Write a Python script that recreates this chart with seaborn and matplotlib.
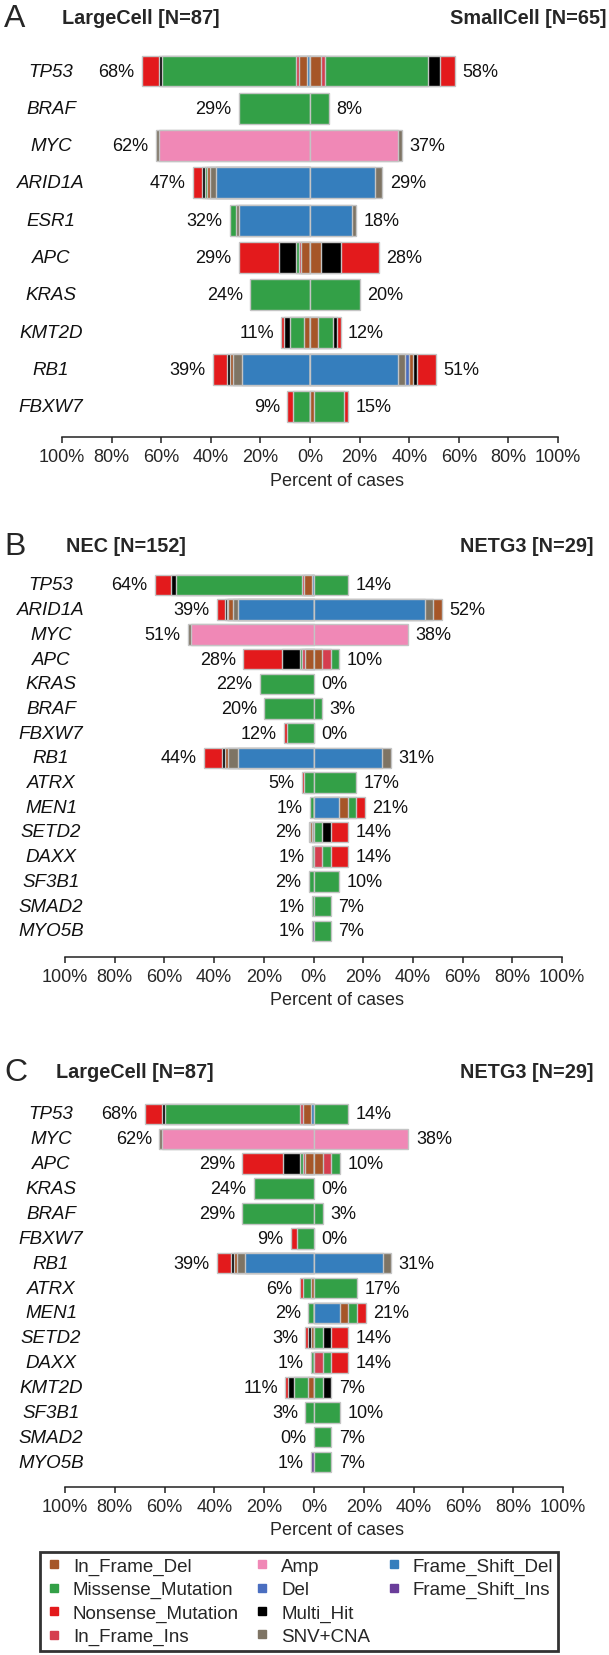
import matplotlib
matplotlib.use("Agg")
import matplotlib.pyplot as plt
from matplotlib.lines import Line2D
from matplotlib import transforms
import pandas as pd
import seaborn as sns

sns.set_theme(style="white")
plt.rcParams["font.family"] = ["Liberation Sans", "DejaVu Sans"]

# variant classes and colours
vc_colors = {
    "In_Frame_Del": "#A65628",
    "Missense_Mutation": "#33A047",
    "Nonsense_Mutation": "#E31A1C",
    "In_Frame_Ins": "#D53E4F",
    "Amp": "#F088B6",
    "Del": "#4A6EC0",
    "Multi_Hit": "#000000",
    "SNV+CNA": "#7E7464",
    "Frame_Shift_Del": "#357EBD",
    "Frame_Shift_Ins": "#6A3D9A",
}

# sample counts per gene, segments listed from the centre outward
n_large, n_small, n_nec, n_netg3 = 87, 65, 152, 29

large_cell = {
    "TP53": [("Frame_Shift_Del", 1), ("In_Frame_Del", 3), ("In_Frame_Ins", 1), ("Missense_Mutation", 47), ("Multi_Hit", 1), ("Nonsense_Mutation", 6)],
    "BRAF": [("Missense_Mutation", 25)],
    "MYC": [("Amp", 53), ("SNV+CNA", 1)],
    "ARID1A": [("Frame_Shift_Del", 33), ("SNV+CNA", 2), ("In_Frame_Del", 1), ("Missense_Mutation", 1), ("Multi_Hit", 1), ("Nonsense_Mutation", 3)],
    "ESR1": [("Frame_Shift_Del", 25), ("SNV+CNA", 1), ("Missense_Mutation", 2)],
    "APC": [("In_Frame_Del", 3), ("In_Frame_Ins", 1), ("Missense_Mutation", 1), ("Multi_Hit", 6), ("Nonsense_Mutation", 14)],
    "KRAS": [("Missense_Mutation", 21)],
    "KMT2D": [("In_Frame_Del", 2), ("Missense_Mutation", 5), ("Multi_Hit", 2), ("Nonsense_Mutation", 1)],
    "RB1": [("Frame_Shift_Del", 24), ("SNV+CNA", 3), ("In_Frame_Del", 1), ("Multi_Hit", 1), ("Nonsense_Mutation", 5)],
    "FBXW7": [("Missense_Mutation", 6), ("Nonsense_Mutation", 2)],
    "ATRX": [("In_Frame_Del", 1), ("Missense_Mutation", 3), ("Nonsense_Mutation", 1)],
    "MEN1": [("Missense_Mutation", 2)],
    "SETD2": [("In_Frame_Del", 1), ("Multi_Hit", 1), ("Nonsense_Mutation", 1)],
    "DAXX": [("Missense_Mutation", 1)],
    "SF3B1": [("Missense_Mutation", 3)],
    "SMAD2": [],
    "MYO5B": [("Frame_Shift_Ins", 1)],
}

small_cell = {
    "TP53": [("In_Frame_Del", 3), ("In_Frame_Ins", 1), ("Missense_Mutation", 27), ("Multi_Hit", 3), ("Nonsense_Mutation", 4)],
    "BRAF": [("Missense_Mutation", 5)],
    "MYC": [("Amp", 23), ("SNV+CNA", 1)],
    "ARID1A": [("Frame_Shift_Del", 17), ("SNV+CNA", 2)],
    "ESR1": [("Frame_Shift_Del", 11), ("SNV+CNA", 1)],
    "APC": [("In_Frame_Del", 3), ("Multi_Hit", 5), ("Nonsense_Mutation", 10)],
    "KRAS": [("Missense_Mutation", 13)],
    "KMT2D": [("In_Frame_Del", 2), ("Missense_Mutation", 4), ("Multi_Hit", 1), ("Nonsense_Mutation", 1)],
    "RB1": [("Frame_Shift_Del", 23), ("SNV+CNA", 2), ("Del", 1), ("In_Frame_Del", 1), ("Multi_Hit", 1), ("Nonsense_Mutation", 5)],
    "FBXW7": [("In_Frame_Del", 1), ("Missense_Mutation", 8), ("Nonsense_Mutation", 1)],
}

nec = {
    "TP53": [("Frame_Shift_Del", 1), ("In_Frame_Del", 5), ("In_Frame_Ins", 1), ("Missense_Mutation", 77), ("Multi_Hit", 3), ("Nonsense_Mutation", 10)],
    "ARID1A": [("Frame_Shift_Del", 46), ("SNV+CNA", 3), ("In_Frame_Del", 3), ("Missense_Mutation", 1), ("Multi_Hit", 1), ("Nonsense_Mutation", 5)],
    "MYC": [("Amp", 75), ("SNV+CNA", 2)],
    "APC": [("In_Frame_Del", 5), ("In_Frame_Ins", 2), ("Missense_Mutation", 1), ("Multi_Hit", 11), ("Nonsense_Mutation", 24)],
    "KRAS": [("Missense_Mutation", 33)],
    "BRAF": [("Missense_Mutation", 30)],
    "FBXW7": [("Missense_Mutation", 16), ("Nonsense_Mutation", 2)],
    "RB1": [("Frame_Shift_Del", 46), ("SNV+CNA", 6), ("In_Frame_Del", 2), ("Multi_Hit", 2), ("Nonsense_Mutation", 11)],
    "ATRX": [("Missense_Mutation", 6), ("Nonsense_Mutation", 1)],
    "MEN1": [("Missense_Mutation", 2)],
    "SETD2": [("SNV+CNA", 1), ("In_Frame_Del", 1), ("Nonsense_Mutation", 1)],
    "DAXX": [("Missense_Mutation", 1)],
    "SF3B1": [("Missense_Mutation", 3)],
    "SMAD2": [("Missense_Mutation", 1)],
    "MYO5B": [("Frame_Shift_Ins", 1)],
}

netg3 = {
    "TP53": [("Missense_Mutation", 4)],
    "ARID1A": [("Frame_Shift_Del", 13), ("SNV+CNA", 1), ("In_Frame_Del", 1)],
    "MYC": [("Amp", 11)],
    "APC": [("In_Frame_Del", 1), ("In_Frame_Ins", 1), ("Missense_Mutation", 1)],
    "KRAS": [],
    "BRAF": [("Missense_Mutation", 1)],
    "FBXW7": [],
    "RB1": [("Frame_Shift_Del", 8), ("SNV+CNA", 1)],
    "ATRX": [("Missense_Mutation", 5)],
    "MEN1": [("Frame_Shift_Del", 3), ("In_Frame_Del", 1), ("Missense_Mutation", 1), ("Nonsense_Mutation", 1)],
    "SETD2": [("Missense_Mutation", 1), ("Multi_Hit", 1), ("Nonsense_Mutation", 2)],
    "DAXX": [("In_Frame_Ins", 1), ("Missense_Mutation", 1), ("Nonsense_Mutation", 2)],
    "KMT2D": [("Missense_Mutation", 1), ("Multi_Hit", 1)],
    "SF3B1": [("Missense_Mutation", 3)],
    "SMAD2": [("Missense_Mutation", 2)],
    "MYO5B": [("Missense_Mutation", 2)],
}

genes_a = ["TP53", "BRAF", "MYC", "ARID1A", "ESR1", "APC", "KRAS", "KMT2D", "RB1", "FBXW7"]
genes_b = ["TP53", "ARID1A", "MYC", "APC", "KRAS", "BRAF", "FBXW7", "RB1", "ATRX", "MEN1",
           "SETD2", "DAXX", "SF3B1", "SMAD2", "MYO5B"]
genes_c = ["TP53", "MYC", "APC", "KRAS", "BRAF", "FBXW7", "RB1", "ATRX", "MEN1", "SETD2",
           "DAXX", "KMT2D", "SF3B1", "SMAD2", "MYO5B"]

ticks = [-100, -80, -60, -40, -20, 0, 20, 40, 60, 80, 100]
tick_labels = [f"{abs(t)}%" for t in ticks]
legend_order = ["In_Frame_Del", "Missense_Mutation", "Nonsense_Mutation", "In_Frame_Ins",
                "Amp", "Del", "Multi_Hit", "SNV+CNA", "Frame_Shift_Del", "Frame_Shift_Ins"]

W, H = 609, 1656
fig = plt.figure(figsize=(W / 100, H / 100), dpi=100)


def draw_side(ax, cohort, n_cases, genes, sign):
    depth = max(len(cohort.get(g, [])) for g in genes)
    # outermost layer first, inner cumulative bars painted on top
    for k in range(depth - 1, -1, -1):
        rows = []
        for g in genes:
            segs = cohort.get(g, [])
            if len(segs) > k:
                cum = sum(c for _, c in segs[:k + 1]) / n_cases * 100
                rows.append((g, sign * cum, vc_colors[segs[k][0]]))
        df = pd.DataFrame(rows, columns=["gene", "pct", "color"])
        sns.barplot(data=df, x="pct", y="gene", hue="gene", order=genes,
                    hue_order=list(df["gene"]), palette=dict(zip(df["gene"], df["color"])),
                    dodge=False, legend=False, width=0.83, saturation=1, errorbar=None,
                    edgecolor="#c4c4c4", linewidth=1.0, orient="y", ax=ax)
    for i, g in enumerate(genes):
        tot = sum(c for _, c in cohort.get(g, [])) / n_cases * 100
        ax.text(sign * (tot + 3), i, f"{round(tot)}%", ha="right" if sign < 0 else "left",
                va="center", fontsize=13, color="#111111")


def panel(letter, left, right, genes, row0, step, axis_y, x0, x1, title_y, tl_x, tr_x):
    top = row0 - 0.8 * step
    ax_h = axis_y - top
    ax = fig.add_axes([x0 / W, 1 - axis_y / H, (x1 - x0) / W, ax_h / H])
    draw_side(ax, left[0], left[1], genes, -1)
    draw_side(ax, right[0], right[1], genes, 1)
    ax.set_xlim(-100, 100)
    ax.set_ylim((axis_y - row0) / step, -0.8)
    for s in ["top", "left", "right"]:
        ax.spines[s].set_visible(False)
    ax.spines["bottom"].set_color("#222222")
    ax.spines["bottom"].set_linewidth(1.1)
    ax.set_yticks([])
    ax.set_ylabel("")
    ax.set_xticks(ticks, tick_labels)
    ax.tick_params(axis="x", direction="out", length=4, width=1.1, color="#222222",
                   labelsize=13, pad=4, bottom=True)
    ax.set_xlabel("Percent of cases", fontsize=13)
    ax.xaxis.set_label_coords((337 - x0) / (x1 - x0), -43 / ax_h)
    ax.xaxis.label.set_va("center")
    trans = transforms.blended_transform_factory(fig.transFigure, ax.transData)
    for i, g in enumerate(genes):
        ax.text(51 / W, i, g, transform=trans, ha="center", va="center",
                fontsize=13.5, style="italic", color="#111111")
    fig.text(4 / W, 1 - title_y / H, letter, fontsize=23, va="center", ha="left")
    fig.text(tl_x / W, 1 - title_y / H, left[2], fontsize=14.3, fontweight="bold",
             va="center", ha="left")
    fig.text(tr_x / W, 1 - title_y / H, right[2], fontsize=14.3, fontweight="bold",
             va="center", ha="right")
    return ax


panel("A", (large_cell, n_large, "LargeCell [N=87]"), (small_cell, n_small, "SmallCell [N=65]"),
      genes_a, 72, 37.3, 438, 62, 558, 19, 62, 606)
panel("B", (nec, n_nec, "NEC [N=152]"), (netg3, n_netg3, "NETG3 [N=29]"),
      genes_b, 586, 24.7, 958, 65, 562, 547, 66, 594)
panel("C", (large_cell, n_large, "LargeCell [N=87]"), (netg3, n_netg3, "NETG3 [N=29]"),
      genes_c, 1115, 24.86, 1488, 65, 563, 1073, 56, 594)

handles = [Line2D([0], [0], marker="s", linestyle="none", markersize=6,
                  markerfacecolor=vc_colors[v], markeredgecolor=vc_colors[v]) for v in legend_order]
labels = list(legend_order)
# two empty slots so the columns split 4 / 4 / 2
for _ in range(2):
    handles.append(Line2D([0], [0], linestyle="none", marker=None))
    labels.append("")
leg = fig.legend(handles, labels, ncol=3, loc="upper left",
                 bbox_to_anchor=(40 / W, 1 - 1553 / H), fontsize=13.5, frameon=True,
                 fancybox=False, edgecolor="black", borderaxespad=0, borderpad=0.3,
                 handlelength=0.9, handletextpad=0.55, columnspacing=0.8, labelspacing=0.33)
leg.get_frame().set_linewidth(2)

fig.savefig("out.png", dpi=100, facecolor="white")
